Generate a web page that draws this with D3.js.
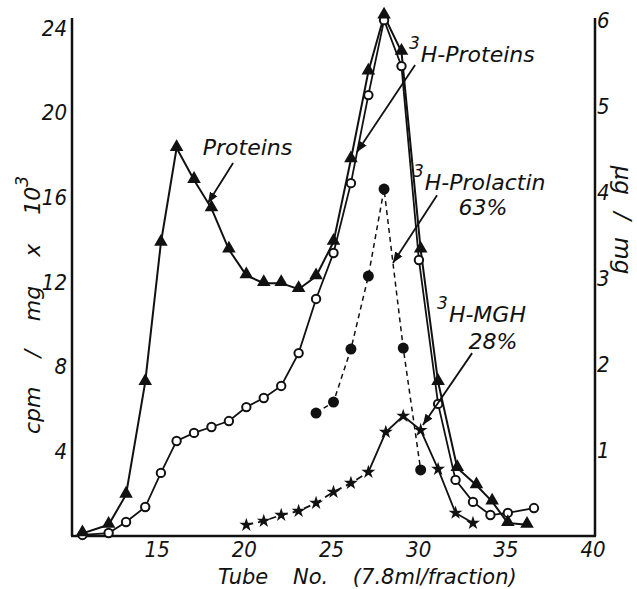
<!DOCTYPE html>
<html>
<head>
<meta charset="utf-8">
<script src="https://cdn.jsdelivr.net/npm/d3@7"></script>
<style>
  body { margin: 0; background: #fff; }
  svg { display: block; }
  text { font-family: 'DejaVu Sans', sans-serif; font-style: oblique; fill: #111; }
  .tick-label { font-family: 'DejaVu Sans Condensed', 'DejaVu Sans', sans-serif; font-size: 22px; }
</style>
</head>
<body>
<svg></svg>
<script>
  let w = 637;
  let h = 589;

// Data (tube number, value)
const proteinTubes = [10.6, 12.1, 13.1, 14.2, 15.1, 16, 17, 18, 19, 20, 21, 22, 23, 24, 25, 26, 27, 27.9, 28.9, 30, 31, 32.1, 33.2, 34.1, 35, 36.1];
const proteinValues = [0.03, 0.13, 0.48, 1.79, 3.41, 4.51, 4.14, 3.81, 3.33, 3.03, 2.94, 2.94, 2.87, 3.02, 3.42, 4.38, 5.40, 6.05, 5.63, 3.33, 1.79, 0.79, 0.59, 0.40, 0.15, 0.13];

const h3ProteinTubes = [10.6, 12.1, 13.1, 14.2, 15.1, 16, 17, 18, 19, 20, 21, 22, 23, 24, 25, 26, 27, 27.9, 28.9, 29.9, 31, 32, 33, 34, 35, 36.5];
const h3ProteinValues = [0.05, 0.14, 0.66, 1.37, 2.98, 4.49, 4.87, 5.15, 5.43, 6.09, 6.52, 7.09, 8.64, 11.2, 13.37, 16.67, 20.83, 24.37, 22.2, 13.04, 6.24, 2.65, 1.61, 0.99, 1.09, 1.32];

const prolactinTubes = [24, 25, 26, 27, 27.9, 29, 30];
const prolactinValues = [5.81, 6.33, 8.83, 12.28, 16.39, 8.88, 3.12];

const mghTubes = [20, 21, 22, 23, 24, 25, 26, 27, 28, 29, 30, 31, 32, 33];
const mghValues = [0.52, 0.71, 0.99, 1.18, 1.56, 2.08, 2.5, 3.02, 4.91, 5.67, 5.0, 3.16, 1.09, 0.61];

const xTicks = [15, 20, 25, 30, 35, 40];
const yLeftTicks = [4, 8, 12, 16, 20, 24];
const yRightTicks = [1, 2, 3, 4, 5, 6];

const svg = d3.select('svg')
  .attr('width', w)
  .attr('height', h)

svg.append('defs').append('marker')
  .attr('id', 'arrow')
  .attr('viewBox', '0 0 10 10')
  .attr('refX', 10).attr('refY', 5)
  .attr('markerWidth', 6).attr('markerHeight', 6)
  .attr('markerUnits', 'strokeWidth')
  .attr('orient', 'auto')
  .append('path')
  .attr('d', 'M0,1 L10,5 L0,9 Z')
  .attr('fill', '#111')

// Scales
const xScale = d3.scaleLinear().domain([10, 40]).range([72, 595]);
const yLeft = d3.scaleLinear().domain([0, 24]).range([536, 28]);
const yRight = d3.scaleLinear().domain([0, 6]).range([536, 20]);

// Axes (hand drawn look: no tick marks)
svg.append('line')
  .attr('x1', xScale(10)).attr('x2', xScale(10))
  .attr('y1', 18).attr('y2', yLeft(0))
  .attr('stroke', '#111').attr('stroke-width', 2.5)
svg.append('line')
  .attr('x1', xScale(10) - 1).attr('x2', xScale(40) + 1)
  .attr('y1', yLeft(0)).attr('y2', yLeft(0))
  .attr('stroke', '#111').attr('stroke-width', 2.5)
svg.append('line')
  .attr('x1', xScale(40)).attr('x2', xScale(40))
  .attr('y1', 18).attr('y2', yLeft(0))
  .attr('stroke', '#111').attr('stroke-width', 2.5)

svg.selectAll('.xt')
  .data(xTicks)
  .enter()
  .append('text')
  .attr('class', 'tick-label')
  .attr('x', d => xScale(d) - 2)
  .attr('y', 557)
  .attr('text-anchor', 'middle')
  .text(d => d)

svg.selectAll('.yl')
  .data(yLeftTicks)
  .enter()
  .append('text')
  .attr('class', 'tick-label')
  .attr('x', 67)
  .attr('y', d => yLeft(d))
  .attr('dy', '0.35em')
  .attr('text-anchor', 'end')
  .text(d => d)

svg.selectAll('.yr')
  .data(yRightTicks)
  .enter()
  .append('text')
  .attr('class', 'tick-label')
  .attr('x', 597)
  .attr('y', d => yRight(d))
  .attr('dy', '0.35em')
  .text(d => d)

// Axis titles
svg.append('text')
  .attr('x', 218).attr('y', 584)
  .style('font-size', '21px')
  .style('word-spacing', '18px')
  .text('Tube No. (7.8ml/fraction)')

const leftTitle = svg.append('text')
  .attr('transform', 'translate(40,305) rotate(-90)')
  .attr('text-anchor', 'middle')
  .style('font-size', '22px')
  .style('word-spacing', '22px')
leftTitle.append('tspan').text('cpm / mg x 10')
leftTitle.append('tspan').attr('dy', -12).style('font-size', '17px').text('3')

svg.append('text')
  .attr('transform', 'translate(615,220) rotate(90)')
  .attr('text-anchor', 'middle')
  .style('font-size', '23px')
  .style('word-spacing', '10px')
  .text('µg / mg')

// Lines
const line = (xs, ys, yScale) => d3.line()
  .x((d, i) => xScale(xs[i]))
  .y((d, i) => yScale(ys[i]))

svg.append('path')
  .datum(proteinValues)
  .attr('d', line(proteinTubes, proteinValues, yRight))
  .attr('fill', 'none').attr('stroke', '#111').attr('stroke-width', 2)

svg.append('path')
  .datum(h3ProteinValues)
  .attr('d', line(h3ProteinTubes, h3ProteinValues, yLeft))
  .attr('fill', 'none').attr('stroke', '#111').attr('stroke-width', 1.8)

svg.append('path')
  .datum(prolactinValues)
  .attr('d', line(prolactinTubes, prolactinValues, yLeft))
  .attr('fill', 'none').attr('stroke', '#111').attr('stroke-width', 1.5)
  .attr('stroke-dasharray', '5,4')

// MGH: dashed on the rising foot, solid from tube 27
const mghSplit = mghTubes.indexOf(27);
const mghLine = d3.line()
  .x(i => xScale(mghTubes[i]))
  .y(i => yLeft(mghValues[i]))
svg.append('path')
  .attr('d', mghLine(d3.range(0, mghSplit + 1)))
  .attr('fill', 'none').attr('stroke', '#111').attr('stroke-width', 1.8)
  .attr('stroke-dasharray', '7,5')
svg.append('path')
  .attr('d', mghLine(d3.range(mghSplit, mghTubes.length)))
  .attr('fill', 'none').attr('stroke', '#111').attr('stroke-width', 1.8)

// Markers
svg.selectAll('.circ')
  .data(h3ProteinValues)
  .enter()
  .append('circle')
  .attr('cx', (d, i) => xScale(h3ProteinTubes[i]))
  .attr('cy', d => yLeft(d))
  .attr('r', 4.2)
  .attr('fill', '#fff').attr('stroke', '#111').attr('stroke-width', 2)

svg.selectAll('.tri')
  .data(proteinValues)
  .enter()
  .append('path')
  .attr('d', d3.symbol(d3.symbolTriangle).size(80))
  .attr('transform', (d, i) => `translate(${xScale(proteinTubes[i])},${yRight(d) - 1})`)
  .attr('fill', '#111')

svg.selectAll('.dot')
  .data(prolactinValues)
  .enter()
  .append('circle')
  .attr('cx', (d, i) => xScale(prolactinTubes[i]))
  .attr('cy', d => yLeft(d))
  .attr('r', 5.5)
  .attr('fill', '#111')

svg.selectAll('.star')
  .data(mghValues)
  .enter()
  .append('path')
  .attr('d', d3.symbol(d3.symbolStar).size(60))
  .attr('transform', (d, i) => `translate(${xScale(mghTubes[i])},${yLeft(d)})`)
  .attr('fill', '#111')

// Annotations, placed in data units (tube, cpm/mg x 10^3)
const arrows = [
  [19.24, 17.62, 17.8, 15.73],
  [29.68, 22.25, 26.35, 18.14],
  [30.94, 16.1, 28.41, 12.9],
  [32.95, 8.64, 30.13, 5.24]
];
svg.selectAll('.arr')
  .data(arrows)
  .enter()
  .append('line')
  .attr('x1', d => xScale(d[0])).attr('y1', d => yLeft(d[1]))
  .attr('x2', d => xScale(d[2])).attr('y2', d => yLeft(d[3]))
  .attr('stroke', '#111').attr('stroke-width', 1.8)
  .attr('marker-end', 'url(#arrow)')

const labels = [
  { name: 'Proteins', sup: '', tube: 17.5, val: 18.0 },
  { name: 'H-Proteins', sup: '3', tube: 29.33, val: 22.39 },
  { name: 'H-Prolactin', sup: '3', tube: 29.56, val: 16.34 },
  { name: 'H-MGH', sup: '3', tube: 30.94, val: 10.1 }
];
const pcts = [
  { text: '63%', tube: 33.58, val: 15.16 },
  { text: '28%', tube: 34.15, val: 8.83 }
];
labels.forEach(l => {
  const t = svg.append('text')
    .attr('x', xScale(l.tube))
    .attr('y', yLeft(l.val))
    .style('font-size', '22px')
  if (l.sup) {
    t.append('tspan').attr('dy', -13).style('font-size', '17px').text(l.sup)
    t.append('tspan').attr('dy', 13).attr('dx', 1).text(l.name)
  } else {
    t.text(l.name)
  }
})
svg.selectAll('.pct')
  .data(pcts)
  .enter()
  .append('text')
  .attr('x', d => xScale(d.tube))
  .attr('y', d => yLeft(d.val))
  .attr('text-anchor', 'middle')
  .style('font-size', '22px')
  .text(d => d.text)
</script>
</body>
</html>
